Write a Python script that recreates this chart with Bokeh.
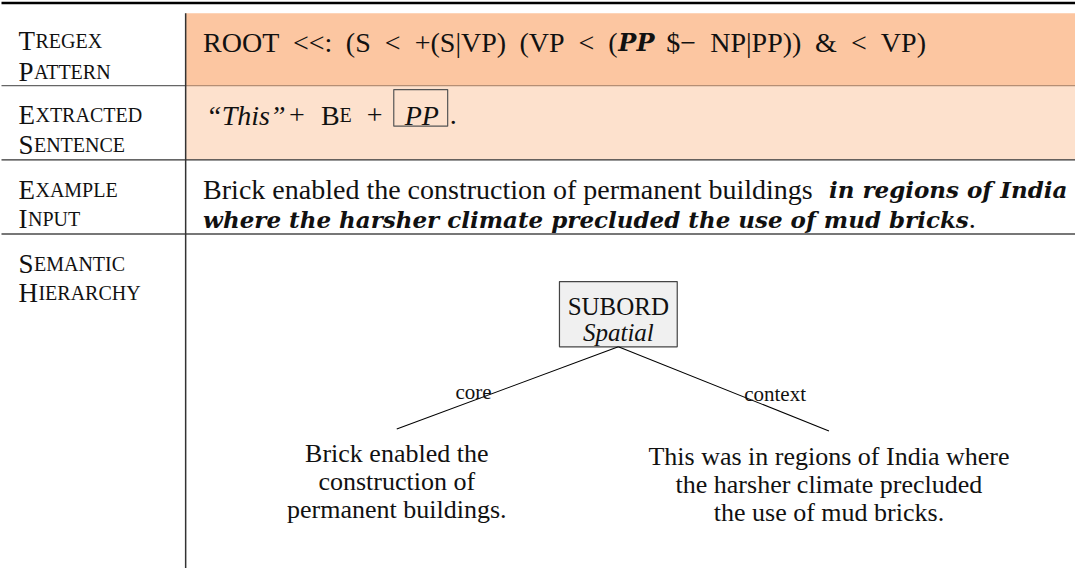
from bokeh.plotting import figure
from bokeh.models import Range1d
from bokeh.core.properties import value
from bokeh.embed import file_html
from bokeh.resources import INLINE

# ---------------- content ----------------
ROW_LABELS = [["Tregex", "Pattern"], ["Extracted", "Sentence"],
              ["Example", "Input"], ["Semantic", "Hierarchy"]]
PATTERN_TOKENS = ["ROOT", "<<:", "(S", "<", "+(S|VP)", "(VP", "<", "(",
                  "PP", "$\u2212", "NP|PP))", "&", "<", "VP)"]
PATTERN_BOLD = [False] * 8 + [True] + [False] * 5
EXTRACTED_QUOTE = "\u201cThis\u201d"
EXTRACTED_PLUS = "+"
EXTRACTED_BE = ["B", "E"]
EXTRACTED_BOX = "PP"
EXAMPLE_PLAIN = "Brick enabled the construction of permanent buildings"
EXAMPLE_BOLD = ["in regions of India",
                "where the harsher climate precluded the use of mud bricks"]
EXAMPLE_END = "."
NODE_LABEL = "SUBORD"
NODE_RELATION = "Spatial"
EDGE_LABELS = ["core", "context"]
LEAF_TEXTS = [["Brick enabled the", "construction of", "permanent buildings."],
              ["This was in regions of India where",
               "the harsher climate precluded", "the use of mud bricks."]]

# ---------------- layout (reference pixel coordinates) ----------------
ROW_TOPS = [15, 88, 163, 238]
TABLE_BOTTOM = 576
COL_SPLIT = 191.5
LEFT_EDGE = 7
RIGHT_EDGE = 1083
LABEL_X = 24
LABEL_BASE = [[43, 74], [118, 148], [193, 223], [268, 298]]
FIRST_W = {"T": 0.611, "P": 0.556, "E": 0.611, "S": 0.556, "I": 0.333, "H": 0.722}
CAP_SIZE = 27
SC_SIZE = 20
PATTERN_X = [209, 299, 352, 391, 421, 526, 585, 615, 625, 673, 717, 822, 858, 888]
PATTERN_BASE = 44
EXTRACT_BASE = 118
EXAMPLE_BASE = [193, 223]
BODY = 28
SERIF = "Liberation Serif"
BOLDF = "DejaVu Serif"
INK = "#111111"

p = figure(width=1075, height=568, output_backend="svg", toolbar_location=None,
           x_axis_location=None, y_axis_location=None, min_border=0,
           x_range=Range1d(6, 1083), y_range=Range1d(576, 2),
           background_fill_color="white", border_fill_color="white")
p.outline_line_color = None
p.xgrid.visible = False
p.ygrid.visible = False


def txt(x, y, t, size, font=SERIF, style="normal", align="left", color=INK):
    p.text(x=[x], y=[y], text=[t], text_font=value(font),
           text_font_size=f"{size}px", text_font_style=style,
           text_align=align, text_baseline="alphabetic", text_color=color)


# fills
p.quad(left=[COL_SPLIT], right=[RIGHT_EDGE], top=[ROW_TOPS[0]], bottom=[ROW_TOPS[1]],
       fill_color="#FCC6A1", line_color=None)
p.quad(left=[COL_SPLIT], right=[RIGHT_EDGE], top=[ROW_TOPS[1]], bottom=[ROW_TOPS[2]],
       fill_color="#FDE1CD", line_color=None)

# rules
p.segment(x0=[LEFT_EDGE], y0=[4.5], x1=[RIGHT_EDGE], y1=[4.5], line_color="black", line_width=2.6)
p.segment(x0=[LEFT_EDGE], y0=[ROW_TOPS[1]], x1=[COL_SPLIT], y1=[ROW_TOPS[1]], line_color="#666666", line_width=1.3)
p.segment(x0=[COL_SPLIT], y0=[ROW_TOPS[1]], x1=[RIGHT_EDGE], y1=[ROW_TOPS[1]], line_color="#B58E74", line_width=1.2)
p.segment(x0=[LEFT_EDGE], y0=[ROW_TOPS[2]], x1=[RIGHT_EDGE], y1=[ROW_TOPS[2]], line_color="#333333", line_width=1.3)
p.segment(x0=[LEFT_EDGE], y0=[ROW_TOPS[3]], x1=[RIGHT_EDGE], y1=[ROW_TOPS[3]], line_color="#777777", line_width=2)
p.segment(x0=[COL_SPLIT], y0=[ROW_TOPS[0]], x1=[COL_SPLIT], y1=[TABLE_BOTTOM], line_color="#333333", line_width=1.5)

# row labels in small caps
for words, bases in zip(ROW_LABELS, LABEL_BASE):
    for w, b in zip(words, bases):
        first = w[0].upper()
        txt(LABEL_X, b, first, CAP_SIZE)
        txt(LABEL_X + FIRST_W[first] * CAP_SIZE + 0.5, b, w[1:].upper(), SC_SIZE)

# pattern
for tok, x, bold in zip(PATTERN_TOKENS, PATTERN_X, PATTERN_BOLD):
    if bold:
        txt(x, PATTERN_BASE, tok, 24, font=BOLDF, style="bold italic")
    else:
        txt(x, PATTERN_BASE, tok, BODY)

# extracted sentence
txt(212, EXTRACT_BASE, EXTRACTED_QUOTE, BODY, style="italic")
txt(295, EXTRACT_BASE, EXTRACTED_PLUS, BODY)
txt(327, EXTRACT_BASE, EXTRACTED_BE[0], BODY)
txt(327 + 0.667 * BODY, EXTRACT_BASE, EXTRACTED_BE[1], 20)
txt(373, EXTRACT_BASE, EXTRACTED_PLUS, BODY)
p.quad(left=[400], right=[454], top=[92], bottom=[129], fill_color=None,
       line_color="#555555", line_width=1.2)
txt(411, EXTRACT_BASE, EXTRACTED_BOX, BODY, style="italic")
txt(456, EXTRACT_BASE, EXAMPLE_END, BODY)

# example input
txt(209, EXAMPLE_BASE[0], EXAMPLE_PLAIN, BODY)
txt(836, EXAMPLE_BASE[0], EXAMPLE_BOLD[0], 23, font=BOLDF, style="bold italic")
txt(209, EXAMPLE_BASE[1], EXAMPLE_BOLD[1], 23, font=BOLDF, style="bold italic")
txt(976, EXAMPLE_BASE[1], EXAMPLE_END, BODY)

# semantic hierarchy tree
NODE_X, NODE_TOP, NODE_BOT = 625, 286, 352
p.quad(left=[566], right=[684], top=[NODE_TOP], bottom=[NODE_BOT],
       fill_color="#F0F0F0", line_color="#444444", line_width=1.2)
txt(NODE_X, 311, NODE_LABEL, 25, align="center")
txt(NODE_X, 338, NODE_RELATION, 25, style="italic", align="center")
LEAF_X = [403, 836]
LEAF_TOP = [435, 437]
p.segment(x0=[NODE_X, NODE_X], y0=[NODE_BOT, NODE_BOT], x1=LEAF_X, y1=LEAF_TOP,
          line_color="black", line_width=1.1)
txt(480, 398, EDGE_LABELS[0], 21, align="center")
txt(782, 400, EDGE_LABELS[1], 21, align="center")
LEAF_BASE = [[460, 488, 516], [463, 491, 519]]
for lines, lx, bases in zip(LEAF_TEXTS, LEAF_X, LEAF_BASE):
    for line, b in zip(lines, bases):
        txt(lx, b, line, 26, align="center")

open("out.html", "w").write(file_html(p, INLINE))
